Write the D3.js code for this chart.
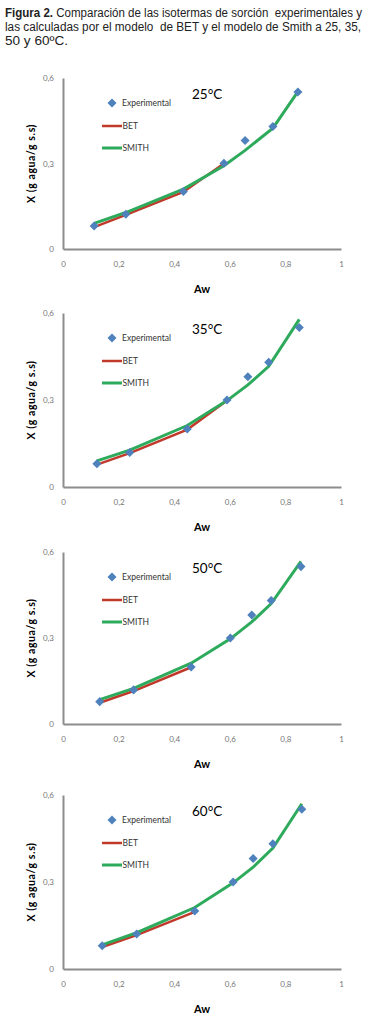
<!DOCTYPE html>
<html>
<head>
<meta charset="utf-8">
<script src="https://cdn.jsdelivr.net/npm/d3@7"></script>
<style>
  body { margin: 0; background: #fff; }
  svg { position: absolute; left: 0; top: 0; }
</style>
</head>
<body>
<svg id="fig"></svg>
<script>
// caption lines
var captionLines = [
  ["Figura 2.", " Comparación de las isotermas de sorción  experimentales y"],
  ["", "las calculadas por el modelo  de BET y el modelo de Smith a 25, 35,"],
  ["", "50 y 60ºC."]
];

// temperatures
var temps = ["25°C", "35°C", "50°C", "60°C"];

// water activity of the experimental points
var aw25 = [0.112, 0.226, 0.433, 0.579, 0.655, 0.755, 0.845];
var aw35 = [0.122, 0.240, 0.447, 0.590, 0.665, 0.740, 0.850];
var aw50 = [0.132, 0.254, 0.461, 0.602, 0.679, 0.749, 0.856];
var aw60 = [0.141, 0.265, 0.474, 0.612, 0.684, 0.755, 0.859];

// experimental moisture
var exp25 = [0.081, 0.122, 0.202, 0.301, 0.381, 0.430, 0.551];
var exp35 = [0.080, 0.119, 0.200, 0.300, 0.380, 0.430, 0.550];
var exp50 = [0.078, 0.119, 0.199, 0.300, 0.380, 0.431, 0.549];
var exp60 = [0.080, 0.121, 0.200, 0.300, 0.381, 0.432, 0.551];

// BET model (only valid for the lower aw points)
var bet25 = [0.077, 0.120, 0.200, 0.300];
var bet35 = [0.077, 0.117, 0.198, 0.298];
var bet50 = [0.074, 0.115, 0.198];
var bet60 = [0.076, 0.117, 0.197];

// Smith model
var smith25 = [0.090, 0.128, 0.210, 0.292, 0.346, 0.424, 0.552];
var smith35 = [0.090, 0.127, 0.212, 0.298, 0.352, 0.416, 0.578];
var smith50 = [0.085, 0.124, 0.212, 0.297, 0.356, 0.420, 0.567];
var smith60 = [0.083, 0.125, 0.212, 0.297, 0.351, 0.417, 0.570];

var xTicks = [0, 0.2, 0.4, 0.6, 0.8, 1];
var yTicks = [0, 0.3, 0.6];
var legendLabels = ["Experimental", "BET", "SMITH"];

var panels = [
  { aw: aw25, exp: exp25, bet: bet25, smith: smith25, top: 78, bottom: 249 },
  { aw: aw35, exp: exp35, bet: bet35, smith: smith35, top: 313, bottom: 487 },
  { aw: aw50, exp: exp50, bet: bet50, smith: smith50, top: 552, bottom: 724 },
  { aw: aw60, exp: exp60, bet: bet60, smith: smith60, top: 795, bottom: 969 }
];

var width = 389, height = 1026;
var left = 63, right = 341;
var blue = "#4f81bd", red = "#c0392b", green = "#2eaa5c", axisGray = "#8c8c8c";
var chartFont = "Lato, 'Open Sans', sans-serif";

var svg = d3.select("#fig").attr("width", width).attr("height", height);

// caption, squeezed to look like a condensed face
var lineWidths = [357, 356, 63];
captionLines.forEach((l, i) => {
  var t = svg.append("text").attr("x", 5).attr("y", 17 + i * 14)
    .attr("textLength", lineWidths[i]).attr("lengthAdjust", "spacingAndGlyphs")
    .style("font-family", "'Liberation Sans', Arial, sans-serif")
    .style("font-size", "12.5px").attr("fill", "#222").attr("xml:space", "preserve");
  if (l[0]) t.append("tspan").style("font-weight", "bold").text(l[0]);
  t.append("tspan").text(l[1]);
});

var diamond = d3.symbol().type(d3.symbolDiamond2).size(52);
var fmt = d => d3.format(".1f")(d).replace(".", ",");

panels.forEach((p, i) => {
  var x = d3.scaleLinear().domain([0, 1]).range([left, right]);
  var y = d3.scaleLinear().domain([0, 0.6]).range([p.bottom, p.top]);
  var g = svg.append("g");

  // axes
  var xa = g.append("g").attr("transform", `translate(0,${p.bottom})`)
    .call(d3.axisBottom(x).tickValues(xTicks).tickSize(0).tickPadding(12)
      .tickFormat(d => d === 0 || d === 1 ? d : fmt(d)));
  var ya = g.append("g").attr("transform", `translate(${left},0)`)
    .call(d3.axisLeft(y).tickValues(yTicks).tickSize(0).tickPadding(9)
      .tickFormat(d => d === 0 ? "0" : fmt(d)));
  [xa, ya].forEach(a => {
    a.select(".domain").attr("stroke", axisGray).attr("stroke-width", 2);
    a.selectAll("text").attr("fill", "#777").style("font-family", chartFont).style("font-size", "8px");
  });

  // axis titles
  g.append("text").attr("x", (left + right) / 2).attr("y", p.bottom + 44)
    .attr("text-anchor", "middle").style("font-family", chartFont)
    .style("font-size", "11px").style("font-weight", "bold").text("Aw");
  g.append("text")
    .attr("transform", `translate(35,${(p.top + p.bottom) / 2}) rotate(-90)`)
    .attr("text-anchor", "middle").style("font-family", chartFont)
    .style("font-size", "10.5px").style("font-weight", "bold")
    .style("letter-spacing", "0.6px").text("X (g agua/g s.s)");

  // temperature label
  g.append("text").attr("x", 192).attr("y", p.top + 21)
    .style("font-family", chartFont).style("font-size", "13.5px").text(temps[i]);

  // model lines
  var line = d3.line().x(d => x(d[0])).y(d => y(d[1]));
  g.append("path").datum(p.bet.map((v, k) => [p.aw[k], v]))
    .attr("d", line).attr("fill", "none").attr("stroke", red).attr("stroke-width", 2.5);
  g.append("path").datum(p.smith.map((v, k) => [p.aw[k], v]))
    .attr("d", line).attr("fill", "none").attr("stroke", green).attr("stroke-width", 3);

  // experimental points
  g.selectAll(".pt").data(p.aw).enter().append("path")
    .attr("transform", (d, k) => `translate(${x(d)},${y(p.exp[k])})`)
    .attr("d", diamond).attr("fill", blue);

  // legend
  var lg = g.append("g").attr("transform", `translate(0,${p.top})`);
  lg.append("path").attr("transform", "translate(112,25)").attr("d", diamond).attr("fill", blue);
  lg.append("line").attr("x1", 102).attr("x2", 122).attr("y1", 48).attr("y2", 48)
    .attr("stroke", red).attr("stroke-width", 2.5);
  lg.append("line").attr("x1", 102).attr("x2", 122).attr("y1", 70).attr("y2", 70)
    .attr("stroke", green).attr("stroke-width", 3);
  lg.selectAll("text").data(legendLabels).enter().append("text")
    .attr("x", (d, k) => k === 0 ? 122 : 122.5)
    .attr("y", (d, k) => [28, 51, 73][k])
    .style("font-family", chartFont).style("font-size", "8.5px").attr("fill", "#333")
    .text(d => d);
});
</script>
</body>
</html>
